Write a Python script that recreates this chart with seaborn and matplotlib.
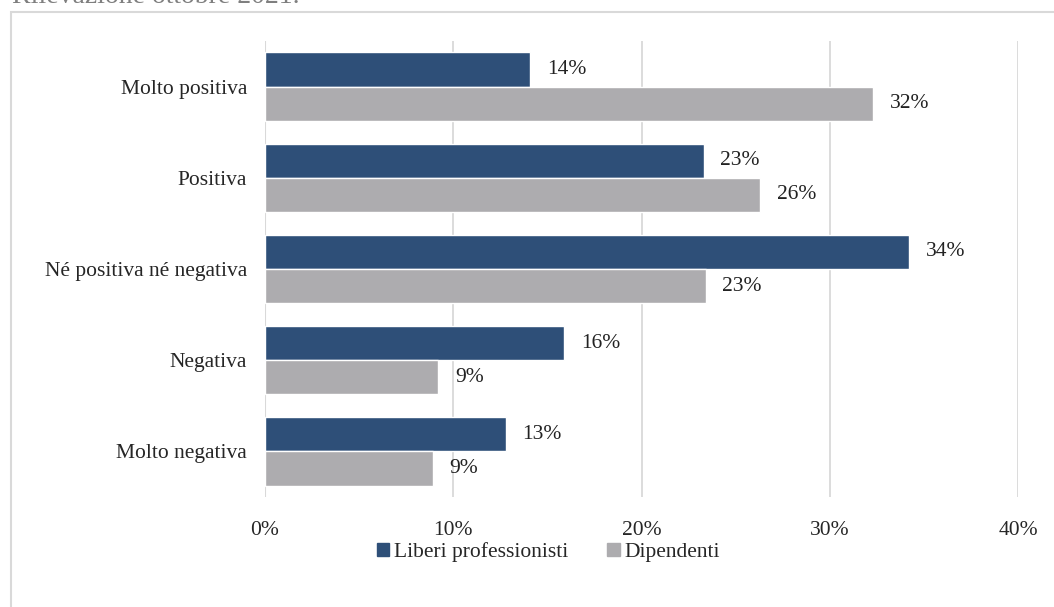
import seaborn as sns
import matplotlib.pyplot as plt
import matplotlib.patches as mpatches
import pandas as pd

# Valori (percentuali)
categorie = ['Molto positiva', 'Positiva', 'Né positiva né negativa', 'Negativa', 'Molto negativa']
liberi = [14.1, 23.3, 34.2, 15.9, 12.8]
dipendenti = [32.3, 26.3, 23.4, 9.2, 8.9]
serie = ['Liberi professionisti', 'Dipendenti']
xticks = [0, 10, 20, 30, 40]
xtick_labels = ['0%', '10%', '20%', '30%', '40%']

data = pd.DataFrame({
    'categoria': categorie * 2,
    'valore': liberi + dipendenti,
    'serie': [serie[0]] * 5 + [serie[1]] * 5,
})

sns.set_style('white')
plt.rcParams['font.family'] = ['Liberation Serif', 'DejaVu Serif']
fs = 15.5

fig = plt.figure(figsize=(10.54, 6.07), dpi=100)
ax = fig.add_axes([265 / 1054, 1 - 497 / 607, (1018 - 265) / 1054, (497 - 41) / 607])

colori = ['#2E4F78', '#ADACAF']
sns.barplot(data=data, x='valore', y='categoria', hue='serie', orient='h',
            palette=colori, width=0.75, ax=ax, legend=False, saturation=1)

for cont in ax.containers:
    ax.bar_label(cont, labels=[f'{v:.0f}%' for v in cont.datavalues],
                 padding=12, fontsize=fs, color='#222222')

ax.set_xlim(0, 40)
ax.set_xticks(xticks)
ax.set_xticklabels(xtick_labels, fontsize=fs)
ax.tick_params(axis='y', labelsize=fs, length=0, pad=13)
ax.tick_params(axis='x', length=0, pad=17)
ax.set_xlabel('')
ax.set_ylabel('')
ax.grid(axis='x', color='#D9D9D9', linewidth=1.3)
ax.set_axisbelow(True)
sns.despine(ax=ax, left=True, bottom=True, top=True, right=True)
ax.axvline(0, color='#D9D9D9', linewidth=1.5, zorder=0)

handles = [mpatches.Patch(color=c, label=s) for c, s in zip(colori, serie)]
fig.legend(handles=handles, loc='center', bbox_to_anchor=(548 / 1054, 1 - 552 / 607),
           ncol=2, frameon=False, fontsize=fs, handlelength=0.6, handleheight=0.6,
           handletextpad=0.2, columnspacing=1.8)

# cornice e titolo tagliato in alto
fig.add_artist(mpatches.Rectangle((10.5 / 1054, -0.05), 1.1, 1 - 11.5 / 607 + 0.05,
                                  transform=fig.transFigure, fill=False,
                                  edgecolor='#D9D9D9', linewidth=1.5))
fig.text(12 / 1054, 1 - 3 / 607, 'Rilevazione ottobre 2021.', fontsize=20,
         color='#7F7F7F', va='baseline', ha='left')

fig.savefig('out.png', dpi=100)
